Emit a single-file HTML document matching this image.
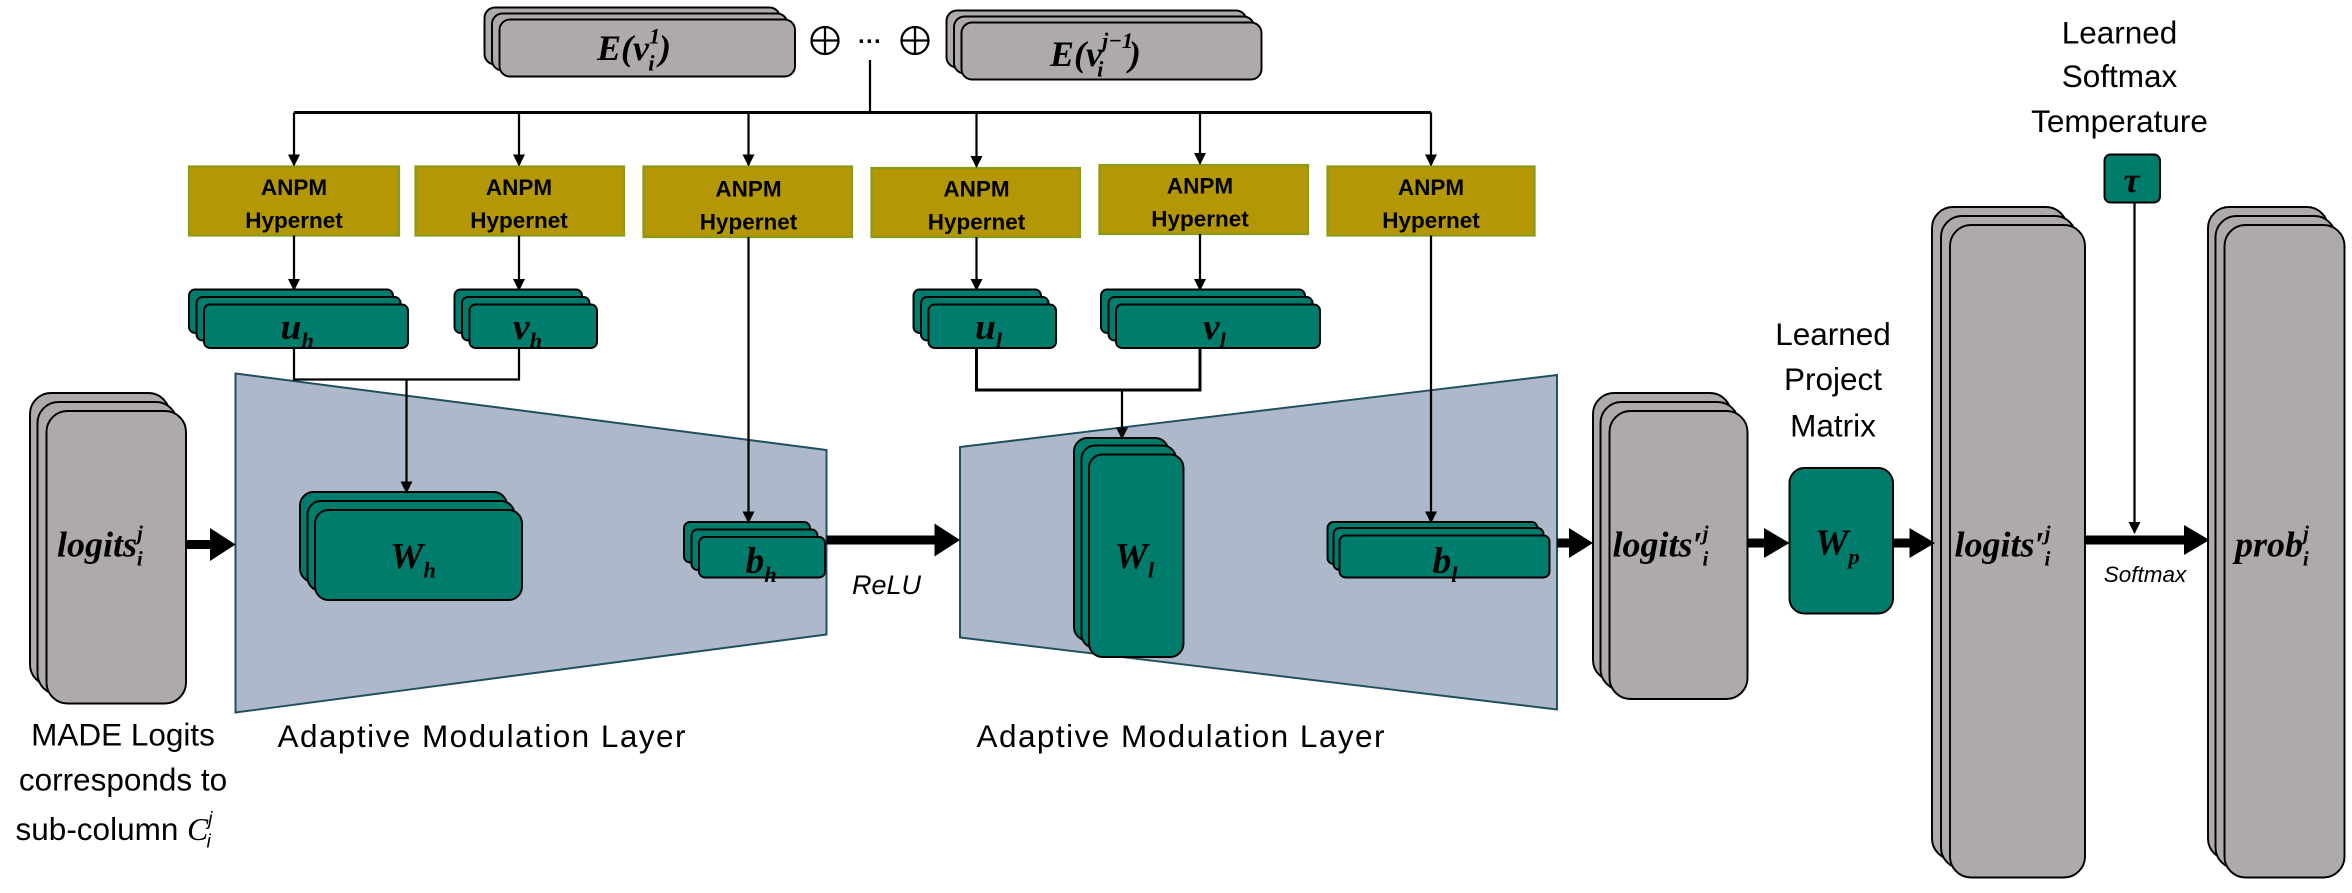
<!DOCTYPE html>
<html><head><meta charset="utf-8"><style>
html,body{margin:0;padding:0;background:#fff;}
svg{display:block;}
.t{font-family:"Liberation Sans",sans-serif;font-size:21px;fill:#000;text-anchor:middle;}
.m{font-family:"Liberation Serif",serif;font-weight:bold;font-style:italic;fill:#000;text-anchor:middle;}
.ms{font-family:"Liberation Serif",serif;font-weight:bold;font-style:italic;fill:#000;}
.an{font-family:"Liberation Sans",sans-serif;font-weight:bold;font-size:15px;fill:#000;text-anchor:middle;}
</style></head><body>
<svg width="2352" height="893" viewBox="0 0 1568 595.33" xmlns="http://www.w3.org/2000/svg">
<defs>
<marker id="a" markerWidth="8" markerHeight="8" refX="7" refY="4" orient="auto" markerUnits="userSpaceOnUse"><path d="M0,0 L8,4 L0,8 z" fill="#000"/></marker>
</defs>
<polygon points="157,249 551,300 551,423 157,475" fill="#adb9ca" stroke="#1f4e5f" stroke-width="1.3"/>
<polygon points="640,298 1038,250 1038,473 640,425" fill="#adb9ca" stroke="#1f4e5f" stroke-width="1.3"/>

<g stroke="#000" stroke-width="1.3">
<g fill="#aeaaa9">
<rect x="323" y="5" width="197" height="38" rx="7"/><rect x="328" y="9" width="197" height="38" rx="7"/><rect x="333" y="13" width="197" height="38" rx="7"/>
<rect x="631" y="7" width="200" height="38" rx="7"/><rect x="636" y="11" width="200" height="38" rx="7"/><rect x="641" y="15" width="200" height="38" rx="7"/>
<rect x="20" y="262" width="93" height="195" rx="14"/><rect x="25" y="268" width="93" height="195" rx="14"/><rect x="31" y="274" width="93" height="195" rx="14"/>
<rect x="1062" y="262" width="92" height="192" rx="14"/><rect x="1067" y="268" width="92" height="192" rx="14"/><rect x="1073" y="274" width="92" height="192" rx="14"/>
<rect x="1288" y="138" width="90" height="435" rx="14"/><rect x="1294" y="144" width="90" height="435" rx="14"/><rect x="1300" y="150" width="90" height="435" rx="14"/>
<rect x="1472" y="138" width="80" height="435" rx="14"/><rect x="1477" y="144" width="80" height="435" rx="14"/><rect x="1483" y="150" width="80" height="435" rx="14"/>
</g>
<g fill="#007c6c">
<rect x="126" y="193" width="136" height="29" rx="4"/><rect x="131" y="198" width="136" height="29" rx="4"/><rect x="136" y="203" width="136" height="29" rx="4"/>
<rect x="303" y="193" width="85" height="29" rx="4"/><rect x="308" y="198" width="85" height="29" rx="4"/><rect x="313" y="203" width="85" height="29" rx="4"/>
<rect x="609" y="193" width="85" height="29" rx="4"/><rect x="614" y="198" width="85" height="29" rx="4"/><rect x="619" y="203" width="85" height="29" rx="4"/>
<rect x="734" y="193" width="136" height="29" rx="4"/><rect x="739" y="198" width="136" height="29" rx="4"/><rect x="744" y="203" width="136" height="29" rx="4"/>
<rect x="200" y="328" width="138" height="60" rx="9"/><rect x="205" y="334" width="138" height="60" rx="9"/><rect x="210" y="340" width="138" height="60" rx="9"/>
<rect x="456" y="348" width="84" height="27" rx="4"/><rect x="461" y="353" width="84" height="27" rx="4"/><rect x="466" y="358" width="84" height="27" rx="4"/>
<rect x="716" y="292" width="63" height="135" rx="9"/><rect x="721" y="297" width="63" height="135" rx="9"/><rect x="726" y="303" width="63" height="135" rx="9"/>
<rect x="885" y="348" width="140" height="28" rx="4"/><rect x="889" y="352" width="140" height="28" rx="4"/><rect x="893" y="357" width="140" height="28" rx="4"/>
<rect x="1193" y="312" width="69" height="97" rx="10"/>
<rect x="1403" y="103" width="37" height="32" rx="4"/>
</g>
<g fill="#b39705" stroke="#8a9a1a" stroke-width="1.5">
<rect x="126" y="111" width="140" height="46"/><rect x="277" y="111" width="139" height="46"/><rect x="429" y="111" width="139" height="47"/>
<rect x="581" y="112" width="139" height="46"/><rect x="733" y="110" width="139" height="46"/><rect x="885" y="111" width="138" height="46"/>
</g>
</g>

<g stroke="#000" stroke-width="1.5" fill="none">
<circle cx="550" cy="27" r="9"/><line x1="541" y1="27" x2="559" y2="27"/><line x1="550" y1="18" x2="550" y2="36"/>
<circle cx="610" cy="27" r="9"/><line x1="601" y1="27" x2="619" y2="27"/><line x1="610" y1="18" x2="610" y2="36"/>
</g>
<text x="580" y="33" font-family="Liberation Sans" font-weight="bold" font-size="16" text-anchor="middle">···</text>

<g stroke="#000" stroke-width="1.5" fill="none">
<line x1="580" y1="40" x2="580" y2="75"/>
<line x1="196" y1="75" x2="954" y2="75" stroke-width="2"/>
<line x1="196" y1="75" x2="196" y2="110" marker-end="url(#a)"/>
<line x1="346" y1="75" x2="346" y2="110" marker-end="url(#a)"/>
<line x1="499" y1="75" x2="499" y2="110" marker-end="url(#a)"/>
<line x1="651" y1="75" x2="651" y2="111" marker-end="url(#a)"/>
<line x1="800" y1="75" x2="800" y2="109" marker-end="url(#a)"/>
<line x1="954" y1="75" x2="954" y2="110" marker-end="url(#a)"/>
<line x1="196" y1="157" x2="196" y2="193" marker-end="url(#a)"/>
<line x1="346" y1="157" x2="346" y2="193" marker-end="url(#a)"/>
<line x1="651" y1="158" x2="651" y2="193" marker-end="url(#a)"/>
<line x1="800" y1="156" x2="800" y2="193" marker-end="url(#a)"/>
<polyline points="196,232 196,253 346,253 346,232"/>
<line x1="271" y1="253" x2="271" y2="328" marker-end="url(#a)"/>
<polyline points="651,232 651,260 800,260 800,232" stroke-width="2"/>
<line x1="748" y1="260" x2="748" y2="292" marker-end="url(#a)"/>
<line x1="499" y1="158" x2="499" y2="348" marker-end="url(#a)"/>
<line x1="954" y1="157" x2="954" y2="348" marker-end="url(#a)"/>
<line x1="1423" y1="135" x2="1423" y2="355" marker-end="url(#a)"/>
</g>
<g fill="#000">
<rect x="124" y="360" width="18" height="6"/><polygon points="140,352 157,363 140,374"/>
<rect x="551" y="357" width="74" height="6"/><polygon points="623,349 640,360 623,371"/>
<rect x="1038" y="359" width="10" height="6"/><polygon points="1046,352 1062,362 1046,372"/>
<rect x="1165" y="359" width="13" height="6"/><polygon points="1176,352 1193,362 1176,372"/>
<rect x="1262" y="359" width="13" height="6"/><polygon points="1273,352 1290,362 1273,372"/>
<rect x="1390" y="357" width="68" height="6"/><polygon points="1456,350 1473,360 1456,370"/>
</g>

<g class="an">
<text x="196" y="130">ANPM</text><text x="196" y="152">Hypernet</text>
<text x="346" y="130">ANPM</text><text x="346" y="152">Hypernet</text>
<text x="499" y="131">ANPM</text><text x="499" y="153">Hypernet</text>
<text x="651" y="131">ANPM</text><text x="651" y="153">Hypernet</text>
<text x="800" y="129">ANPM</text><text x="800" y="151">Hypernet</text>
<text x="954" y="130">ANPM</text><text x="954" y="152">Hypernet</text>
</g>

<text class="ms" x="398" y="40" font-size="24">E(v<tspan font-size="15" dy="-11">1</tspan><tspan font-size="15" dx="-8" dy="18">i</tspan><tspan dx="3" dy="-7">)</tspan></text>
<text class="ms" x="700" y="44" font-size="24">E(v<tspan font-size="15" dy="-12">j−1</tspan><tspan font-size="15" dx="-24" dy="19">i</tspan><tspan dx="17" dy="-7">)</tspan></text>
<text class="ms" x="187" y="226" font-size="25">u<tspan font-size="15" dy="6">h</tspan></text>
<text class="ms" x="342" y="226" font-size="25">v<tspan font-size="15" dy="6">h</tspan></text>
<text class="ms" x="650" y="226" font-size="25">u<tspan font-size="15" dy="6">l</tspan></text>
<text class="ms" x="802" y="226" font-size="25">v<tspan font-size="15" dy="6">l</tspan></text>
<text class="ms" x="260" y="379" font-size="25">W<tspan font-size="15" dy="6">h</tspan></text>
<text class="ms" x="497" y="382" font-size="25">b<tspan font-size="15" dy="6">h</tspan></text>
<text class="ms" x="743" y="379" font-size="25">W<tspan font-size="15" dy="6">l</tspan></text>
<text class="ms" x="955" y="382" font-size="25">b<tspan font-size="15" dy="6">l</tspan></text>
<text class="ms" x="1210" y="370" font-size="25">W<tspan font-size="15" dy="6">p</tspan></text>
<text class="m" x="1421" y="128" font-size="24">τ</text>
<text class="ms" x="38" y="371" font-size="24">logits<tspan font-size="14" dy="-11">j</tspan><tspan font-size="14" dx="-4" dy="17">i</tspan></text>
<text class="ms" x="1075" y="371" font-size="24">logits′<tspan font-size="14" dy="-11">j</tspan><tspan font-size="14" dx="-4" dy="17">i</tspan></text>
<text class="ms" x="1303" y="371" font-size="24">logits′<tspan font-size="14" dy="-11">j</tspan><tspan font-size="14" dx="-4" dy="17">i</tspan></text>
<text class="ms" x="1490" y="371" font-size="24">prob<tspan font-size="14" dy="-11">j</tspan><tspan font-size="14" dx="-4" dy="17">i</tspan></text>

<text x="591" y="396" font-family="Liberation Sans" font-style="italic" font-size="18" text-anchor="middle">ReLU</text>
<text x="1430" y="388" font-family="Liberation Sans" font-style="italic" font-size="15" text-anchor="middle">Softmax</text>

<text class="t" x="1413" y="29">Learned</text>
<text class="t" x="1413" y="58">Softmax</text>
<text class="t" x="1413" y="88">Temperature</text>
<text class="t" x="1222" y="230">Learned</text>
<text class="t" x="1222" y="260">Project</text>
<text class="t" x="1222" y="291">Matrix</text>
<text class="t" x="82" y="497">MADE Logits</text>
<text class="t" x="82" y="527">corresponds to</text>
<text class="t" x="76" y="560">sub-column <tspan font-family="Liberation Serif" font-style="italic">C</tspan><tspan font-size="13" font-style="italic" dy="-10">j</tspan><tspan font-size="13" font-style="italic" dx="-4" dy="15">i</tspan></text>
<text class="t" x="321" y="498" textLength="272">Adaptive Modulation Layer</text>
<text class="t" x="787" y="498" textLength="272">Adaptive Modulation Layer</text>
</svg>
</body></html>
